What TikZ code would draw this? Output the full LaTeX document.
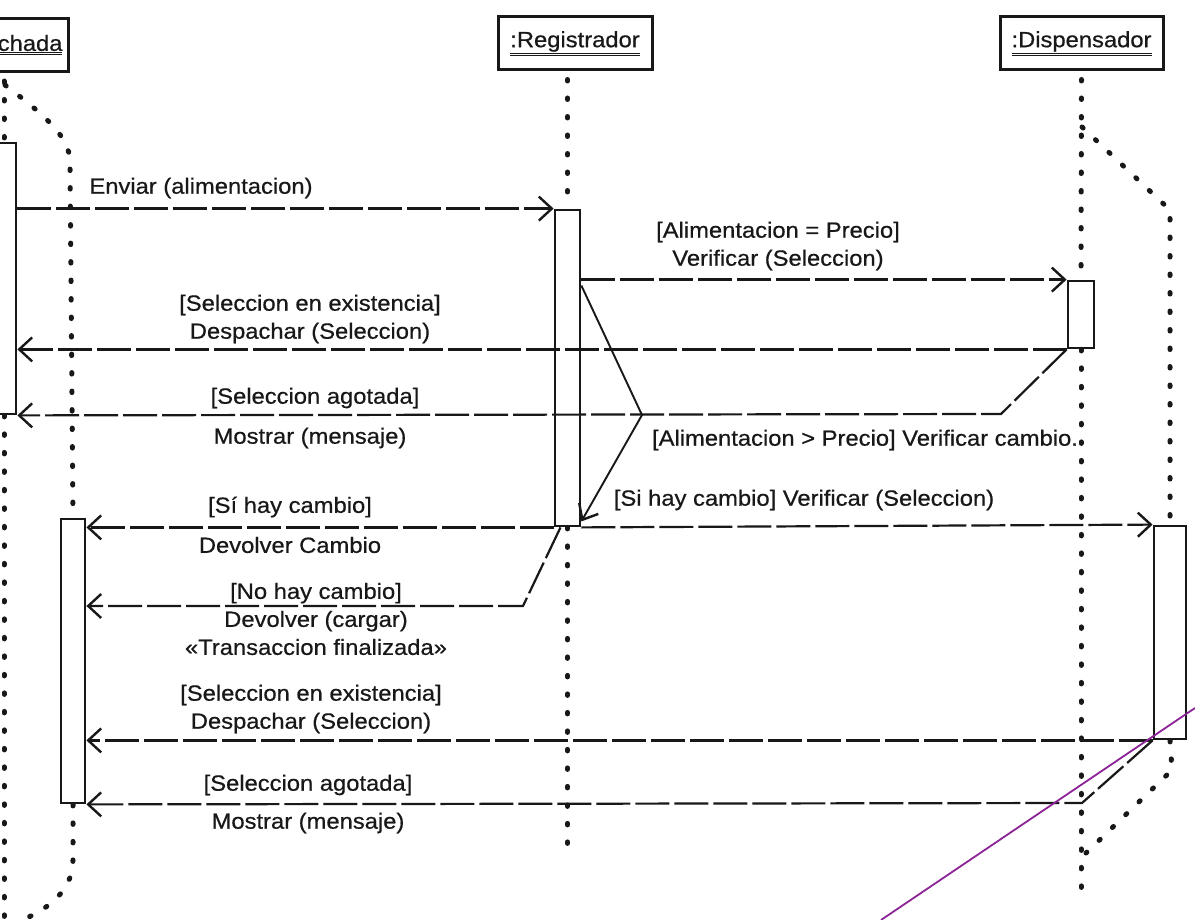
\documentclass[tikz,border=0pt]{standalone}
\usepackage{fontspec}
\setmainfont{Liberation Sans}[FakeStretch=1.08,FakeBold=0.6]
\usetikzlibrary{arrows.meta,calc}
\newcommand\dblul[1]{$\underline{\underline{\hbox{#1}}}$}
\definecolor{ink}{RGB}{24,24,24}
\definecolor{annot}{RGB}{140,35,150}
\tikzset{
  objbox/.style={draw=ink, line width=3pt, minimum height=53pt, inner sep=0pt,
    font=\fontsize{22}{28}\selectfont, text=ink},
  actbox/.style={draw=ink, line width=2.8pt, inner sep=0pt},
  lifeline/.style={draw=ink, line width=5pt, line cap=round, dash pattern=on 1.5pt off 17pt},
  msg/.style={draw=ink, line width=2.2pt, dash pattern=on 34pt off 5pt,
    -{Straight Barb[length=13pt,width=24pt,line width=2.4pt]}},
  selfmsg/.style={draw=ink, line width=1.9pt,
    -{Straight Barb[length=13pt,width=22pt,line width=2.4pt]}},
  lbl/.style={font=\fontsize{22}{28}\selectfont, text=ink, align=center, inner sep=0pt},
  annotline/.style={draw=annot, line width=1.8pt}
}
\begin{document}
\begin{tikzpicture}[x=1pt,y=-1pt]
\useasboundingbox (0,0) rectangle (1195,920);
\clip (0,0) rectangle (1195,920);
\fill[white] (0,0) rectangle (1195,920);

% objects
\node[objbox, text width=80pt, align=right, inner xsep=6pt, anchor=north east] (fach) at (70,17) {\dblul{chada}};
\node[objbox, minimum width=154pt] (reg) at (575,43.5) {\dblul{:Registrador}};
\node[objbox, minimum width=163pt] (disp) at (1081.5,43.5) {\dblul{:Dispensador}};

% activations
\node[actbox, minimum width=24pt, minimum height=271pt] (fa1) at (4,278.5) {};
\node[actbox, minimum width=25pt, minimum height=316pt] (ra) at (567.5,368) {};
\node[actbox, minimum width=26pt, minimum height=67pt] (da1) at (1081,314.5) {};
\node[actbox, minimum width=24pt, minimum height=284pt] (fa2) at (73,661) {};
\node[actbox, minimum width=32pt, minimum height=213pt] (da2) at (1170,632.5) {};

% lifeline points
\coordinate (fbr0) at (5,85);
\coordinate (fbr1) at (70,162);
\coordinate (fbr2) at (73,860);
\coordinate (fend) at (8,925);
\coordinate (fbot) at (4,925);
\coordinate (rbot) at (567.5,855);
\coordinate (dbot) at (1081,890);
\coordinate (dbr0) at (1082,127);
\coordinate (dbr1) at (1170,210);
\coordinate (dbr2) at (1172,770);
\coordinate (dbr3) at (1086,853);

% lifelines
\draw[lifeline] ($(fa1 |- fach.south)+(0,8)$) -- (fa1.north);
\draw[lifeline] (fa1.south) -- (fbot);
\draw[lifeline] (fbr0) .. controls (40,112) and (70,135) .. (fbr1) -- (fa2.north);
\draw[lifeline] (fa2.south) -- (fbr2) .. controls (73,895) and (40,915) .. (fend);
\draw[lifeline] ($(ra |- reg.south)+(0,8)$) -- (ra.north);
\draw[lifeline] (ra.south) -- (rbot);
\draw[lifeline] ($(disp.south)+(0,8)$) -- (da1.north);
\draw[lifeline] (da1.south) -- (dbot);
\draw[lifeline] (dbr0) -- (dbr1) -- (da2.north);
\draw[lifeline] (da2.south) -- (dbr2) -- (dbr3);

% bend points
\coordinate (b4) at (1001,414);
\coordinate (sc) at (642,415);
\coordinate (b8) at (523,606);
\coordinate (b10) at (1082,803);

% messages
\draw[msg] (fa1.east |- ra.north) -- (ra.north west);
\draw[msg] (ra.east |- da1.north) -- (da1.north west);
\draw[msg] (da1.south west) -- (fa1.east |- da1.south);
\draw[msg] (da1.south west) -- (b4) -- (fa1.south east);
\draw[selfmsg] ($(ra.north east)+(0,77)$) -- (sc) -- ($(ra.south east)+(0,-6)$);
\draw[msg] (ra.south east) -- (da2.north west);
\draw[msg] (ra.south west) -- (fa2.east |- ra.south);
\draw[msg] ($(ra.south)+(-7,0)$) -- (b8) -- (fa2.east |- b8);
\draw[msg] (da2.south west) -- (fa2.east |- da2.south);
\draw[msg] (da2.south west) -- (b10) -- (fa2.south east);

% labels
\node[lbl] (l1) at (201,188) {Enviar (alimentacion)};
\node[lbl] (l2) at (778,246) {[Alimentacion = Precio]\\Verificar (Seleccion)};
\node[lbl] (l3) at (310,319) {[Seleccion en existencia]\\Despachar (Seleccion)};
\node[lbl] (l4a) at (315,398) {[Seleccion agotada]};
\node[lbl] (l4b) at (310,438) {Mostrar (mensaje)};
\node[lbl] (l5) at (865,440) {[Alimentacion > Precio] Verificar cambio.};
\node[lbl] (l6) at (804,500) {[Si hay cambio] Verificar (Seleccion)};
\node[lbl] (l7a) at (290,507) {[Sí hay cambio]};
\node[lbl] (l7b) at (290,545) {Devolver Cambio};
\node[lbl] (l8) at (316,619) {[No hay cambio]\\Devolver (cargar)\\«Transaccion finalizada»};
\node[lbl] (l9) at (311,709) {[Seleccion en existencia]\\Despachar (Seleccion)};
\node[lbl] (l10a) at (308,785) {[Seleccion agotada]};
\node[lbl] (l10b) at (308,823) {Mostrar (mensaje)};

% annotation stroke
\coordinate (p1) at (881,920);
\coordinate (p2) at (1195,708);
\draw[annotline] (p1) -- (p2);
\end{tikzpicture}
\end{document}
